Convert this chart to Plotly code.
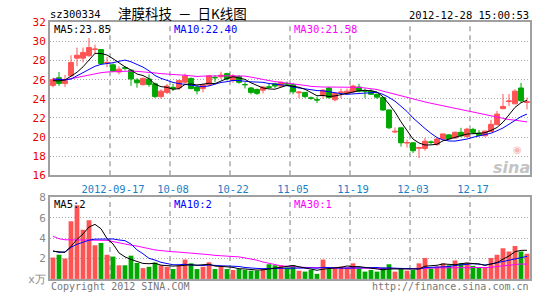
import plotly.graph_objects as go

# ---------------- data ----------------
tick_idx = [10, 20, 30, 40, 50, 60, 70]
tick_text = ["2012-09-17", "10-08", "10-22", "11-05", "11-19", "12-03", "12-17"]

open_ = [25.4, 26.2, 25.6, 26.4, 28.25, 28.25, 28.5, 29.15, 29.15, 27.75,
         27.55, 26.8, 27.25, 27.0, 25.97, 25.47, 26.07, 25.57, 24.23, 24.67,
         25.2, 25.13, 25.73, 26.13, 25.23, 25.07, 25.47, 26.25, 26.3, 26.63,
         25.9, 26.33, 25.5, 25.13, 24.97, 24.9, 25.25, 25.57, 25.33, 25.6,
         25.47, 24.63, 24.67, 24.1, 23.93, 24.33, 25.13, 23.9, 24.63, 24.57,
         24.73, 25.23, 24.85, 24.8, 24.47, 24.13, 22.83, 20.53, 20.97, 19.37,
         19.4, 18.83, 18.8, 19.5, 19.23, 19.8, 20.23, 19.9, 20.5, 20.07,
         20.8, 20.4, 20.13, 20.57, 21.3, 22.97, 23.7, 23.47, 25.13, 23.62]
high = [26.2, 26.8, 26.5, 28.55, 29.35, 29.35, 30.35, 29.65, 29.15, 28.35,
        27.7, 27.4, 27.4, 27.05, 26.15, 26.23, 26.55, 25.7, 25.0, 25.55,
        25.57, 26.0, 26.63, 26.23, 25.4, 25.57, 26.47, 26.47, 26.83, 26.73,
        26.57, 26.47, 25.73, 25.23, 25.07, 25.33, 25.57, 25.67, 25.8, 25.8,
        25.67, 24.8, 24.73, 24.23, 24.23, 25.0, 25.23, 24.67, 25.07, 25.07,
        25.47, 25.57, 25.07, 25.0, 24.57, 24.23, 22.9, 21.0, 21.0, 19.73,
        19.47, 19.0, 19.9, 19.63, 20.0, 20.33, 20.3, 20.57, 20.97, 20.97,
        20.97, 20.73, 20.63, 21.8, 22.73, 24.5, 24.5, 25.0, 25.67, 24.13]
low = [25.2, 25.35, 25.25, 26.25, 27.4, 27.8, 28.4, 28.65, 27.65, 27.3,
       26.8, 26.55, 26.95, 25.35, 25.15, 25.4, 25.25, 24.07, 24.0, 24.5,
       24.8, 24.9, 25.57, 25.0, 24.47, 24.67, 25.33, 25.73, 26.07, 25.9,
       25.67, 25.57, 25.07, 24.47, 24.4, 24.57, 25.07, 25.13, 25.23, 25.3,
       24.47, 24.07, 24.07, 23.9, 23.57, 24.0, 24.0, 23.73, 24.07, 24.4,
       24.57, 24.67, 24.07, 24.4, 24.0, 22.73, 20.83, 20.4, 19.0, 18.9,
       18.33, 17.8, 18.57, 19.23, 19.07, 19.73, 19.73, 19.83, 20.0, 19.9,
       20.33, 20.07, 20.07, 20.57, 21.23, 22.9, 23.23, 23.47, 23.63, 22.9]
close = [26.0, 25.6, 25.9, 27.8, 28.55, 28.85, 29.35, 29.2, 27.7, 27.8,
         26.9, 27.1, 27.2, 26.07, 25.67, 26.13, 25.5, 24.23, 24.8, 25.33,
         25.07, 25.9, 26.4, 25.07, 24.83, 25.47, 26.4, 26.2, 26.47, 26.07,
         26.4, 25.73, 25.47, 24.67, 24.57, 25.23, 25.2, 25.33, 25.73, 25.55,
         24.73, 24.7, 24.23, 24.05, 23.87, 24.9, 24.13, 24.57, 24.7, 24.8,
         25.33, 24.8, 24.8, 24.47, 24.17, 22.83, 20.97, 20.6, 19.4, 19.43,
         18.57, 18.9, 19.57, 19.43, 19.8, 20.33, 19.83, 20.5, 20.13, 20.83,
         20.47, 20.17, 20.63, 21.33, 22.4, 23.2, 23.77, 24.8, 23.8, 23.68]

ma5 = [25.9, 25.87, 25.97, 26.4, 26.77, 27.34, 28.09, 28.75, 28.73, 28.58,
       28.19, 27.74, 27.34, 27.01, 26.59, 26.43, 26.11, 25.52, 25.27, 25.2,
       24.99, 25.07, 25.5, 25.55, 25.45, 25.53, 25.63, 25.59, 25.87, 26.12,
       26.31, 26.17, 26.03, 25.67, 25.37, 25.13, 25.03, 25.0, 25.21, 25.41,
       25.31, 25.21, 24.99, 24.65, 24.32, 24.35, 24.24, 24.3, 24.43, 24.62,
       24.71, 24.84, 24.89, 24.84, 24.71, 24.21, 23.45, 22.61, 21.59, 20.65,
       19.79, 19.38, 19.17, 19.18, 19.25, 19.61, 19.79, 19.98, 20.12, 20.32,
       20.35, 20.42, 20.45, 20.69, 21.0, 21.55, 22.27, 23.1, 23.59, 23.85]
ma10 = [26.07, 26.0, 25.97, 26.07, 26.4, 26.73, 27.13, 27.4, 27.6, 27.68,
        27.77, 27.92, 28.05, 27.87, 27.58, 27.31, 26.93, 26.43, 26.14, 25.89,
        25.71, 25.59, 25.51, 25.41, 25.33, 25.26, 25.35, 25.55, 25.71, 25.79,
        25.92, 25.9, 25.81, 25.77, 25.75, 25.72, 25.6, 25.51, 25.44, 25.39,
        25.22, 25.12, 24.99, 24.93, 24.86, 24.83, 24.72, 24.65, 24.54, 24.47,
        24.53, 24.54, 24.6, 24.64, 24.67, 24.46, 24.14, 23.75, 23.22, 22.68,
        22.0, 21.41, 20.89, 20.39, 19.95, 19.7, 19.59, 19.58, 19.65, 19.79,
        19.98, 20.11, 20.21, 20.4, 20.66, 20.95, 21.34, 21.77, 22.14, 22.4]
ma30 = [26.07, 26.03, 26.0, 26.1, 26.23, 26.37, 26.5, 26.63, 26.73, 26.8,
        26.83, 26.87, 26.9, 26.9, 26.87, 26.83, 26.77, 26.7, 26.63, 26.57,
        26.5, 26.5, 26.47, 26.4, 26.33, 26.37, 26.4, 26.4, 26.4, 26.4,
        26.4, 26.4, 26.37, 26.27, 26.13, 26.0, 25.9, 25.8, 25.73, 25.63,
        25.57, 25.53, 25.4, 25.3, 25.23, 25.23, 25.23, 25.23, 25.23, 25.23,
        25.23, 25.2, 25.13, 25.07, 24.97, 24.8, 24.63, 24.47, 24.3, 24.13,
        24.0, 23.8, 23.67, 23.53, 23.4, 23.27, 23.13, 23.0, 22.83, 22.7,
        22.57, 22.43, 22.3, 22.17, 22.03, 21.93, 21.83, 21.77, 21.7, 21.58]

volume = [2.1, 2.38, 2.0, 5.66, 7.22, 4.81, 5.75, 3.31, 3.53, 2.38,
          2.19, 1.34, 1.34, 2.28, 1.56, 1.06, 1.19, 1.6, 1.34, 1.19,
          0.97, 1.34, 1.9, 1.53, 0.97, 1.19, 1.63, 0.97, 1.19, 0.97,
          0.88, 0.97, 0.88, 0.81, 0.81, 0.97, 1.44, 1.34, 1.34, 1.13,
          1.34, 0.81, 0.72, 0.88, 0.5, 1.9, 0.97, 1.13, 1.22, 1.13,
          1.53, 1.03, 0.72, 0.88, 0.72, 1.13, 1.44, 0.72, 0.97, 0.81,
          0.88, 1.53, 2.06, 1.03, 1.22, 1.53, 1.34, 1.81, 1.53, 1.59,
          1.28, 1.13, 1.13, 2.06, 2.38, 3.0, 2.69, 3.22, 2.69, 2.47]
vma5 = [2.72, 2.65, 2.6, 3.2, 3.87, 4.41, 5.09, 5.35, 4.92, 3.96,
        3.43, 2.55, 2.16, 1.91, 1.74, 1.52, 1.49, 1.54, 1.35, 1.28,
        1.26, 1.29, 1.35, 1.39, 1.34, 1.39, 1.44, 1.26, 1.19, 1.19,
        1.13, 1.0, 0.98, 0.9, 0.87, 0.89, 0.98, 1.07, 1.18, 1.24,
        1.32, 1.19, 1.07, 0.98, 0.85, 0.96, 0.99, 1.08, 1.14, 1.27,
        1.2, 1.21, 1.13, 1.06, 0.98, 0.9, 0.98, 0.98, 1.0, 1.01,
        0.96, 0.98, 1.25, 1.26, 1.34, 1.47, 1.44, 1.39, 1.49, 1.56,
        1.51, 1.47, 1.33, 1.44, 1.6, 1.94, 2.25, 2.67, 2.8, 2.81]
vma10 = [2.75, 2.6, 2.65, 3.1, 3.4, 3.6, 3.8, 3.9, 3.9, 3.91,
         3.92, 3.82, 3.75, 3.42, 2.85, 2.47, 2.02, 1.85, 1.63, 1.51,
         1.39, 1.39, 1.44, 1.37, 1.31, 1.32, 1.37, 1.3, 1.29, 1.27,
         1.26, 1.22, 1.12, 1.05, 1.03, 1.01, 0.99, 1.03, 1.04, 1.06,
         1.1, 1.09, 1.07, 1.08, 1.05, 1.14, 1.09, 1.07, 1.06, 1.06,
         1.08, 1.1, 1.1, 1.1, 1.12, 1.05, 1.09, 1.05, 1.03, 1.0,
         0.93, 0.98, 1.11, 1.13, 1.18, 1.22, 1.21, 1.32, 1.37, 1.45,
         1.49, 1.45, 1.36, 1.46, 1.58, 1.73, 1.86, 2.0, 2.12, 2.21]
vma30 = [4.19, 3.94, 3.84, 3.84, 3.84, 3.84, 3.84, 3.84, 3.84, 3.78,
         3.66, 3.53, 3.41, 3.31, 3.22, 3.09, 2.94, 2.84, 2.78, 2.69,
         2.66, 2.63, 2.59, 2.53, 2.47, 2.41, 2.38, 2.31, 2.28, 2.25,
         2.22, 2.16, 2.06, 1.97, 1.84, 1.66, 1.5, 1.41, 1.28, 1.22,
         1.19, 1.16, 1.13, 1.1, 1.08, 1.08, 1.08, 1.08, 1.08, 1.08,
         1.08, 1.08, 1.08, 1.08, 1.08, 1.07, 1.05, 1.03, 1.0, 1.0,
         1.0, 1.0, 1.03, 1.06, 1.08, 1.09, 1.09, 1.09, 1.09, 1.09,
         1.09, 1.09, 1.09, 1.13, 1.22, 1.28, 1.34, 1.44, 1.47, 1.44]

price_ticks = [16, 18, 20, 22, 24, 26, 28, 30, 32]
vol_ticks = [0, 2, 4, 6, 8]
vol_tick_text = ["x万", "2", "4", "6", "8"]

title_code = "sz300334"
title_name = "津膜科技\u00a0\u00a0－\u00a0\u00a0日K线图"
timestamp = "2012-12-28 15:00:53"
ma_labels = ["MA5:23.85", "MA10:22.40", "MA30:21.58"]
vma_labels = ["MA5:2", "MA10:2", "MA30:1"]

# ---------------- styling ----------------
W, H = 545, 300
RED = "#ff5454"
GREEN = "#00a800"
FRAME = "#a0a0a0"
GRID = "#a8a8a8"
MONO = "DejaVu Sans Mono"


def px(x):
    return x / W


def py(y):
    return 1 - y / H


idx = list(range(len(close)))
bar_colors = [RED if c >= o else GREEN for o, c in zip(open_, close)]

fig = go.Figure()

fig.add_trace(go.Candlestick(
    x=idx, open=open_, high=high, low=low, close=close,
    increasing=dict(line=dict(color=RED, width=1), fillcolor=RED),
    decreasing=dict(line=dict(color=GREEN, width=1), fillcolor=GREEN),
    whiskerwidth=0, xaxis="x", yaxis="y", hoverinfo="skip"))

for arr, col in [(ma30, "#ff00ff"), (ma10, "#0000ff"), (ma5, "#000000")]:
    fig.add_trace(go.Scatter(x=idx, y=arr, mode="lines",
                             line=dict(color=col, width=1),
                             xaxis="x", yaxis="y", hoverinfo="skip"))

fig.add_trace(go.Bar(x=idx, y=volume, marker=dict(color=bar_colors, line=dict(width=0)),
                     width=0.8, xaxis="x2", yaxis="y2", hoverinfo="skip"))
for arr, col in [(vma30, "#ff00ff"), (vma10, "#0000ff"), (vma5, "#000000")]:
    fig.add_trace(go.Scatter(x=idx, y=arr, mode="lines",
                             line=dict(color=col, width=1),
                             xaxis="x2", yaxis="y2", hoverinfo="skip"))

xdom = [px(50), px(530)]
axis_common = dict(showline=True, mirror=True, linecolor=FRAME, linewidth=2,
                   zeroline=False, ticks="", fixedrange=True)

fig.update_layout(
    width=W, height=H,
    margin=dict(l=0, r=0, t=0, b=0),
    paper_bgcolor="white", plot_bgcolor="white",
    showlegend=False,
    boxgap=0.1, boxgroupgap=0.1,
    xaxis=dict(domain=xdom, range=[-0.5, len(close) - 0.5], anchor="y",
               tickmode="array", tickvals=tick_idx, ticktext=tick_text,
               tickfont=dict(family=MONO, size=10.5, color="#1a7fc8"),
               showgrid=False, rangeslider=dict(visible=False),
               ticklabelstandoff=3, **axis_common),
    yaxis=dict(domain=[py(177), py(17)], range=[16, 32], anchor="x",
               tickmode="array", tickvals=price_ticks,
               tickfont=dict(family=MONO, size=11, color="#ee0000"),
               showgrid=True, gridcolor=GRID, griddash="1px,2px", gridwidth=1,
               **axis_common),
    xaxis2=dict(domain=xdom, range=[-0.5, len(close) - 0.5], anchor="y2",
                matches="x", showticklabels=False, showgrid=False, **axis_common),
    yaxis2=dict(domain=[py(285.3), py(200)], range=[0, 8], anchor="x2",
                tickmode="array", tickvals=vol_ticks, ticktext=vol_tick_text,
                tickfont=dict(family=MONO, size=11, color="#888888"),
                showgrid=True, gridcolor=GRID, griddash="1px,2px", gridwidth=1,
                **axis_common),
)

shapes = []
for k in range(1, 8):
    for xr, yr in [("x domain", "y domain"), ("x2 domain", "y2 domain")]:
        shapes.append(dict(type="line", xref=xr, yref=yr, x0=k / 8, x1=k / 8,
                           y0=0, y1=1, layer="below",
                           line=dict(color=GRID, width=1.5, dash="5px,4px")))
fig.update_layout(shapes=shapes)

ann = []


def text(x, y, s, color="black", size=10, anchor="left", family=MONO, **kw):
    ann.append(dict(x=px(x), y=py(y), xref="paper", yref="paper", text=s,
                    showarrow=False, xanchor=anchor, yanchor="middle",
                    font=dict(family=family, size=size, color=color), **kw))


text(48, 8, title_code, size=10.5)
text(116, 7, title_name, size=13.5, family="Noto Sans CJK SC")
text(531, 9, timestamp, size=10.5, anchor="right")

ma_cols = ["#000000", "#0000ff", "#ff00ff"]
for i, (s, c) in enumerate(zip(ma_labels, ma_cols)):
    text(52 + 120 * i, 24, s, color=c, size=10.5)
for i, (s, c) in enumerate(zip(vma_labels, ma_cols)):
    text(52 + 120 * i, 207, s, color=c, size=10.5)

text(49, 293, "Copyright 2012 SINA.COM", color="#777777", size=10)
text(531, 293, "http://finance.sina.com.cn", color="#777777", size=10, anchor="right")

# sina watermark
text(511, 169, "<b><i>sina</i></b>", color="#c4c4c4", size=16, anchor="center",
     family="DejaVu Sans")
text(517, 150, "◉", color="#f2b8b8", size=10, anchor="center", family="DejaVu Sans")

fig.update_layout(annotations=ann)

fig.write_html("out.html", config=dict(displayModeBar=False))
